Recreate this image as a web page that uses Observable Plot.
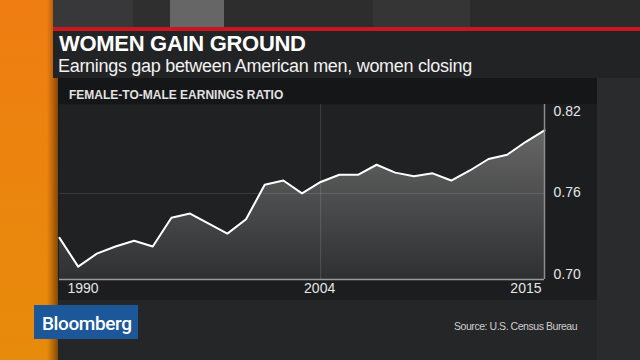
<!DOCTYPE html>
<html>
<head>
<meta charset="utf-8">
<script src="https://cdn.jsdelivr.net/npm/d3@7"></script>
<script src="https://cdn.jsdelivr.net/npm/@observablehq/plot@0.6"></script>
<style>
  html, body { margin: 0; padding: 0; width: 640px; height: 360px; overflow: hidden; background: #252628; }
  #stage { position: relative; width: 640px; height: 360px; overflow: hidden; font-family: "Liberation Sans", Arial, sans-serif; }
  .abs { position: absolute; }
  .txt { position: absolute; white-space: nowrap; line-height: 1; }
</style>
</head>
<body>
<div id="stage">
  <!-- orange strip (beneath the bands) -->
  <div class="abs" style="left:0;top:0;width:58px;height:360px;background:linear-gradient(to right,rgba(0,0,0,0) 0 47px,rgba(90,40,0,0.35) 53px,rgba(60,30,5,0.6) 58px),linear-gradient(to bottom,#ef7d12,#ea860d 60%,#e78b0b);"></div>
  <!-- top stripes -->
  <div class="abs" style="left:53px;top:0;width:587px;height:27px;background:linear-gradient(to right,#38383a 0 80px,#2f2f30 80px 117px,#666667 117px 171px,#2d2d2e 171px 320px,#353536 320px 417px,#2b2b2c 417px 587px);"></div>
  <!-- red rule -->
  <div class="abs" style="left:53px;top:27px;width:587px;height:4px;background:#c8171e;"></div>
  <!-- title band -->
  <div class="abs" style="left:53px;top:31px;width:587px;height:47px;background:#222325;"></div>
  <!-- right column -->
  <div class="abs" style="left:597px;top:78px;width:43px;height:282px;background:#2a2b2d;"></div>
  <!-- chart panel -->
  <div class="abs" style="left:58px;top:78px;width:539px;height:222px;background:#1c1d1f;"></div>
  <div class="abs" style="left:58px;top:78px;width:539px;height:26px;background:#151618;"></div>

  <div class="txt" id="title" style="left:59px;top:33px;font-size:22px;font-weight:700;letter-spacing:-0.3px;color:#ffffff;">WOMEN GAIN GROUND</div>
  <div class="txt" id="subtitle" style="left:58px;top:56.5px;font-size:18px;letter-spacing:-0.3px;color:#f2f2f2;">Earnings gap between American men, women closing</div>
  <div class="txt" id="header" style="left:69px;top:89px;font-size:12px;font-weight:700;color:#e2e2e2;">FEMALE-TO-MALE EARNINGS RATIO</div>

  <div class="abs" id="chart" style="left:58px;top:78px;"></div>

  <!-- Bloomberg logo -->
  <div class="abs" style="left:34px;top:305px;width:104px;height:34px;background:#1c5899;"></div>
  <div class="txt" style="left:42px;top:314px;font-family:Roboto,'Liberation Sans',sans-serif;font-weight:500;font-size:19px;letter-spacing:-0.4px;color:#ffffff;">Bloomberg</div>

  <div class="txt" id="source" style="left:454px;top:320.5px;font-size:10.5px;letter-spacing:-0.45px;color:#cfcfcf;">Source: U.S. Census Bureau</div>
</div>

<script>
// ---- data ----
const years = [1990, 1991, 1992, 1993, 1994, 1995, 1996, 1997, 1998, 1999,
               2000, 2001, 2002, 2003, 2004, 2005, 2006, 2007, 2008, 2009,
               2010, 2011, 2012, 2013, 2013, 2014, 2015];
const ratio = [0.729, 0.709, 0.718, 0.723, 0.727, 0.723, 0.743, 0.746, 0.739, 0.732,
               0.742, 0.766, 0.769, 0.760, 0.768, 0.773, 0.773, 0.780, 0.7745, 0.772,
               0.774, 0.769, 0.776, 0.784, 0.787, 0.796, 0.804];
const xTickLabels = ["1990", "2004", "2015"];
const yTickValues = [0.70, 0.76, 0.82];

const data = years.map((year, i) => ({i, year, ratio: ratio[i]}));
const last = years.length - 1;
const tickIndex = (label) => {
  const y = +label;
  return y === years[last] ? last : years.indexOf(y);
};
const yBase = yTickValues[0];
const fmt = d3.format(".2f");

const gradient = () => {
  const defs = d3.create("svg:defs");
  const g = defs.append("linearGradient")
    .attr("id", "areaFill").attr("x1", 0).attr("x2", 0).attr("y1", 0).attr("y2", 1);
  g.append("stop").attr("offset", "0%").attr("stop-color", "#666666");
  g.append("stop").attr("offset", "100%").attr("stop-color", "#2f3032");
  return defs.node();
};

const labelStyle = {fill: "#e6e6e6", fontSize: 14, fontFamily: "'Liberation Sans', Arial, sans-serif"};

const chart = Plot.plot({
  width: 539,
  height: 222,
  marginLeft: 1,
  marginRight: 53,
  marginTop: 26,
  marginBottom: 21,
  x: {domain: [0, last], axis: null},
  y: {domain: [0.70, 0.822], axis: null},
  style: {background: "transparent", overflow: "visible", fontFamily: "'Liberation Sans', Arial, sans-serif"},
  marks: [
    gradient,
    Plot.frame({fill: "#202123", stroke: null}),
    Plot.areaY(data, {x: "i", y1: yBase, y2: "ratio", fill: "url(#areaFill)"}),
    Plot.ruleY([yTickValues[1]], {stroke: "#ffffff", strokeOpacity: 0.12, strokeWidth: 1}),
    Plot.ruleX([tickIndex(xTickLabels[1])], {stroke: "#ffffff", strokeOpacity: 0.14, strokeWidth: 1}),
    Plot.lineY(data, {x: "i", y: "ratio", stroke: "#ffffff", strokeWidth: 2, strokeLinejoin: "round"}),
    Plot.ruleY([yBase], {stroke: "#9a9a9a", strokeWidth: 1.5}),
    Plot.ruleX([last], {stroke: "#8e8e8e", strokeWidth: 1.5}),
    // x labels
    Plot.text([xTickLabels[0]], {x: tickIndex, y: yBase, text: d => d, textAnchor: "start", lineAnchor: "top", dx: 8, dy: 3.5, ...labelStyle}),
    Plot.text([xTickLabels[1]], {x: tickIndex, y: yBase, text: d => d, textAnchor: "middle", lineAnchor: "top", dx: -1, dy: 3.5, ...labelStyle}),
    Plot.text([xTickLabels[2]], {x: tickIndex, y: yBase, text: d => d, textAnchor: "end", lineAnchor: "top", dx: -3, dy: 3.5, ...labelStyle}),
    // y labels
    Plot.text([yTickValues[2]], {x: last, y: d => d, text: fmt, textAnchor: "start", lineAnchor: "middle", dx: 9, dy: 4, ...labelStyle}),
    Plot.text([yTickValues[1]], {x: last, y: d => d, text: fmt, textAnchor: "start", lineAnchor: "middle", dx: 9, dy: -0.5, ...labelStyle}),
    Plot.text([yTickValues[0]], {x: last, y: d => d, text: fmt, textAnchor: "start", lineAnchor: "middle", dx: 9, dy: -5, ...labelStyle})
  ]
});
document.getElementById("chart").appendChild(chart);
</script>
</body>
</html>
